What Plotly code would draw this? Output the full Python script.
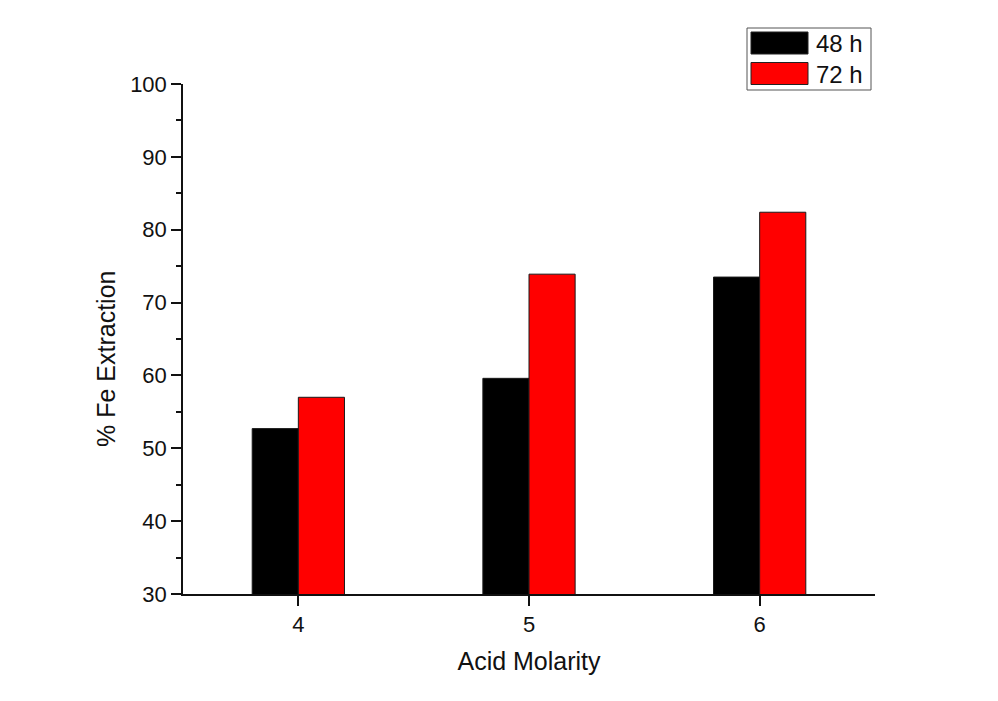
import plotly.graph_objects as go

# Acid molarity and Fe extraction (%) after each leaching time
molarity = [4, 5, 6]
extraction_48h = [52.7, 59.6, 73.5]
extraction_72h = [57.0, 73.9, 82.4]
series_names = ["48 h", "72 h"]
series_colors = ["#000000", "#ff0000"]

W, H = 998, 701
ML, MR, MT, MB = 183, 123, 84, 107
PW, PH = W - ML - MR, H - MT - MB

FONT = "Liberation Sans, Arial, sans-serif"

fig = go.Figure()
for name, vals, col in zip(series_names, [extraction_48h, extraction_72h], series_colors):
    fig.add_trace(go.Bar(
        x=molarity, y=vals, name=name,
        marker=dict(color=col, line=dict(color="#1a1a1a", width=1)),
        showlegend=False,
    ))

fig.update_layout(
    width=W, height=H,
    margin=dict(l=ML, r=MR, t=MT, b=MB),
    paper_bgcolor="white", plot_bgcolor="white",
    barmode="group", bargap=0.6, bargroupgap=0,
    font=dict(family=FONT, color="#111111"),
)
fig.update_xaxes(
    range=[3.5, 6.5], tickvals=molarity, ticktext=[str(m) for m in molarity],
    showline=True, linecolor="#111111", linewidth=1.5,
    ticks="outside", ticklen=10, tickwidth=1.5, tickcolor="#111111",
    tickfont=dict(size=22), showgrid=False, zeroline=False,
    title=dict(text="Acid Molarity", font=dict(size=25), standoff=16),
)
fig.update_yaxes(
    range=[30, 100], dtick=10, tick0=30,
    showline=True, linecolor="#111111", linewidth=1.5,
    ticks="outside", ticklen=10, tickwidth=1.5, tickcolor="#111111",
    minor=dict(dtick=5, ticks="outside", ticklen=5, tickwidth=1.5, tickcolor="#111111", showgrid=False),
    tickfont=dict(size=22), showgrid=False, zeroline=False,
)


def px_x(p):
    return (p - ML) / PW


def px_y(p):
    return (H - MB - p) / PH


# Y-axis title, placed slightly below the plot's vertical centre
annotations = [dict(xref="paper", yref="paper", x=px_x(106), y=px_y(359),
                    text="% Fe Extraction", textangle=-90, showarrow=False,
                    xanchor="center", yanchor="middle",
                    font=dict(size=25, family=FONT, color="#111111"))]

# Legend box with wide colour swatches
shapes = [dict(type="rect", xref="paper", yref="paper",
               x0=px_x(747), x1=px_x(871), y0=px_y(90), y1=px_y(28),
               line=dict(color="#555555", width=1), fillcolor="white")]
for i, (name, col) in enumerate(zip(series_names, series_colors)):
    top = 32 + i * 30.5
    shapes.append(dict(type="rect", xref="paper", yref="paper",
                       x0=px_x(751), x1=px_x(808), y0=px_y(top + 22), y1=px_y(top),
                       line=dict(color="#222222", width=1), fillcolor=col))
    annotations.append(dict(xref="paper", yref="paper", x=px_x(814), y=px_y(top + 11.5),
                            text=name, showarrow=False, xanchor="left", yanchor="middle",
                            font=dict(size=24, family=FONT, color="#111111")))
fig.update_layout(shapes=shapes, annotations=annotations)

fig.write_html("out.html")
